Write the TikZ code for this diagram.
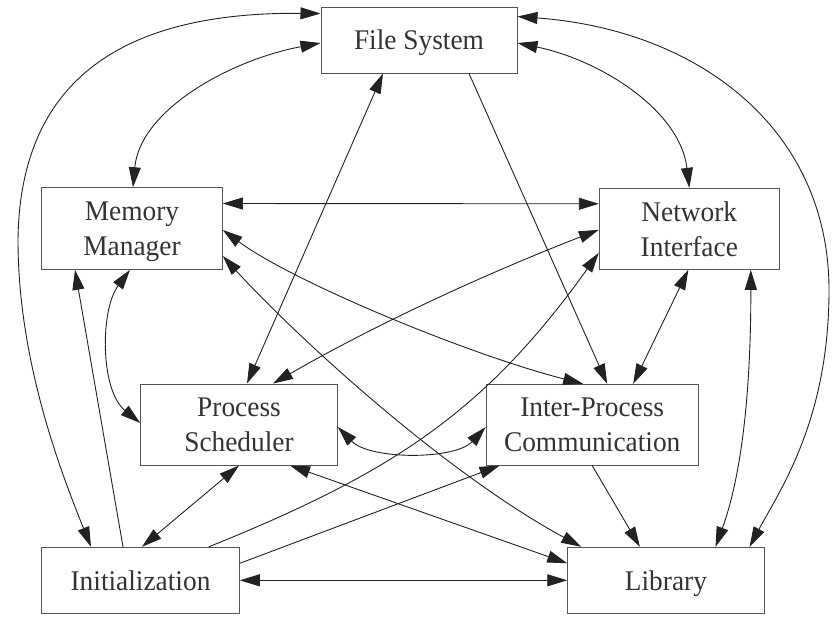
\documentclass[tikz,border=0pt]{standalone}
\usepackage{fontspec}
\setmainfont{Liberation Serif}
\newfontfamily\boxfont[FakeStretch=0.96]{Liberation Serif}
\usetikzlibrary{arrows.meta}
\definecolor{linegray}{HTML}{222222}
\definecolor{boxgray}{HTML}{555555}
\definecolor{txtgray}{HTML}{333333}
\begin{document}
\begin{tikzpicture}[x=1pt,y=-1pt,
  >={Triangle[length=20pt,width=12pt]},
  box/.style={draw=boxgray,line width=1pt,inner sep=0pt,text=txtgray,align=center,text depth=0pt,font=\fontsize{28.5}{35}\boxfont},
  link/.style={draw=linegray,line width=0.9pt}]
\useasboundingbox (0,0) rectangle (832,633);
% nodes
\node[box,minimum width=196pt,minimum height=66pt] (fs) at (419,40) {File System};
\node[box,minimum width=180.6pt,minimum height=81.6pt] (mm) at (132,228.5) {Memory\\Manager};
\node[box,minimum width=180pt,minimum height=81pt] (ni) at (689.3,228.8) {Network\\Interface};
\node[box,minimum width=196.6pt,minimum height=81pt] (ps) at (239,424.5) {Process\\Scheduler};
\node[box,minimum width=212.3pt,minimum height=80.7pt] (ipc) at (592.2,424.7) {Inter-Process\\Communication};
\node[box,minimum width=197.6pt,minimum height=66pt] (init) at (140.5,580.3) {Initialization};
\node[box,minimum width=196.3pt,minimum height=66pt] (lib) at (665.9,580.3) {Library};
% connectors
\draw[link,<->] ([yshift=-7pt]fs.north west) .. controls (150,12) and (20,60) .. (18,240) .. controls (18,360) and (60,470) .. ([xshift=-49.5pt]init.north);
\draw[link,<->] ([yshift=-3pt]fs.west) .. controls (230,60) and (140,110) .. ([xshift=1pt]mm.north);
\draw[link,<->] ([xshift=-36pt]fs.south) -- ([xshift=8pt]ps.north);
\draw[link,<->] ([yshift=25pt]mm.east) -- ([yshift=25pt]ni.west);
\draw[link,<->] ([yshift=-1.5pt]mm.east) .. controls (295,283) and (470,355) .. ([xshift=-9pt]ipc.north);
\draw[link,<->] ([yshift=-27.5pt]mm.east) .. controls (290,330) and (440,470) .. ([xshift=14pt]lib.north west);
\draw[link,->] ([xshift=-17.5pt]init.north) -- ([xshift=-57pt]mm.south);
\draw[link,<->] ([xshift=-2pt]mm.south) .. controls (100,310) and (100,390) .. ([yshift=1.5pt]ps.west);
\draw[link,<->] ([yshift=-10pt]fs.north east) .. controls (700,30) and (829,130) .. (829,290) .. controls (829,420) and (780,490) .. ([xshift=-15pt]lib.north east);
\draw[link,<->] ([yshift=-3pt]fs.east) .. controls (600,60) and (680,110) .. (ni.north);
\draw[link,->] ([xshift=50pt]fs.south) -- ([xshift=15pt]ipc.north);
\draw[link,<->] ([yshift=-1pt]ni.west) .. controls (490,272) and (380,322) .. ([xshift=34pt]ps.north);
\draw[link,->] ([xshift=-31pt]init.north east) .. controls (392,473) and (485,412) .. ([yshift=-24pt]ni.west);
\draw[link,<->] ([xshift=-1pt]ni.south) -- ([xshift=41pt]ipc.north);
\draw[link,<->] ([xshift=-29pt]ni.south east) .. controls (751,400) and (740,480) .. ([xshift=-49pt]lib.north east);
\draw[link,<->] ([yshift=-2.5pt]ps.east) .. controls (370,460) and (455,460) .. ([yshift=-2.5pt]ipc.west);
\draw[link,<->] (ps.south) -- ([xshift=1.5pt]init.north);
\draw[link,<->] ([xshift=51pt]ps.south) -- ([yshift=17pt]lib.west);
\draw[link,->] ([yshift=17pt]init.east) -- ([xshift=14pt]ipc.south west);
\draw[link,<->] (init.east) -- (lib.west);
\draw[link,->] (ipc.south) -- ([xshift=-26pt]lib.north);
\end{tikzpicture}
\end{document}
